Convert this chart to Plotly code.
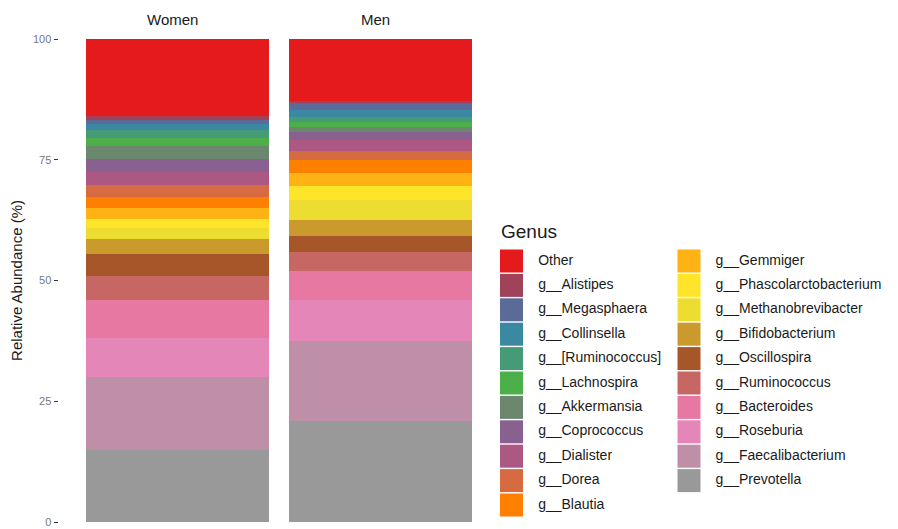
import plotly.graph_objects as go

# ---------------- data ----------------
genera = ["Other", "g__Alistipes", "g__Megasphaera", "g__Collinsella", "g__[Ruminococcus]",
          "g__Lachnospira", "g__Akkermansia", "g__Coprococcus", "g__Dialister", "g__Dorea",
          "g__Blautia", "g__Gemmiger", "g__Phascolarctobacterium", "g__Methanobrevibacter",
          "g__Bifidobacterium", "g__Oscillospira", "g__Ruminococcus", "g__Bacteroides",
          "g__Roseburia", "g__Faecalibacterium", "g__Prevotella"]
groups = ["Women", "Men"]
women = [15.9, 0.8, 1.0, 1.2, 1.5, 1.8, 2.7, 2.7, 2.6, 2.5, 2.2, 2.3, 2.0, 2.2, 3.1,
         4.6, 5.0, 7.9, 8.0, 15.0, 15.0]
men = [12.8, 0.5, 1.5, 1.3, 1.1, 1.1, 1.0, 1.7, 2.1, 2.0, 2.7, 2.6, 2.9, 4.1, 3.3,
       3.4, 4.0, 6.0, 8.4, 16.6, 20.9]
y_ticks = [0, 25, 50, 75, 100]

colors = ["#E41A1C", "#9F425A", "#5A6A99", "#3B88A2", "#449B76", "#4DAF4A", "#6B886E",
          "#896191", "#AD5882", "#D66B41", "#FF7F00", "#FFB214", "#FFE529", "#EDDD31",
          "#CA9A2C", "#A65628", "#C66764", "#E778A1", "#E486B7", "#BF8FA8", "#999999"]

W, H = 898, 529
FONT = "Liberation Sans, Arial, sans-serif"

fig = go.Figure()

# stacked bars: bottom (Prevotella) first
for i in reversed(range(len(genera))):
    for gi, (g, vals) in enumerate(zip(groups, [women, men])):
        fig.add_trace(go.Bar(
            x=[g], y=[vals[i]], name=genera[i],
            marker=dict(color=colors[i], line=dict(width=0)),
            width=1, showlegend=False,
            xaxis="x" if gi == 0 else "x2", yaxis="y",
            hovertemplate=f"{g}<br>{genera[i]}: %{{y}}%<extra></extra>",
        ))

# custom legend drawn through a helper subplot (two columns)
ncol1 = 11
cols = [0 if i < ncol1 else 1 for i in range(len(genera))]
rows = [i if i < ncol1 else i - ncol1 for i in range(len(genera))]
fig.add_trace(go.Scatter(
    x=cols, y=rows, mode="markers",
    marker=dict(symbol="square", size=23, color=colors, line=dict(width=0)),
    xaxis="x3", yaxis="y3", showlegend=False, hoverinfo="text", hovertext=genera,
))
fig.add_trace(go.Scatter(
    x=[c + 0.15 for c in cols], y=rows, mode="text", text=genera,
    textposition="middle right",
    textfont=dict(family=FONT, size=14, color="#1a1a1a"),
    xaxis="x3", yaxis="y3", showlegend=False, hoverinfo="skip",
))

ydom = [1 - 522 / H, 1 - 39 / H]
# legend axes mapping
px_per_col = 177.5
x3_min = (500 - 511.5) / px_per_col
x3_max = (898 - 511.5) / px_per_col
row_px = 24.4
y3_top = (240 - 261) / row_px
y3_bot = (520 - 261) / row_px

fig.update_layout(
    width=W, height=H,
    margin=dict(l=0, r=0, t=0, b=0, autoexpand=False),
    paper_bgcolor="white", plot_bgcolor="white",
    barmode="stack", bargap=0,
    font=dict(family=FONT, color="#1a1a1a"),
    xaxis=dict(domain=[86 / W, 269 / W], range=[-0.5, 0.5], showticklabels=False,
               showgrid=False, zeroline=False, showline=False, ticks="", anchor="y",
               automargin=False),
    xaxis2=dict(domain=[289 / W, 472 / W], range=[-0.5, 0.5], showticklabels=False,
                showgrid=False, zeroline=False, showline=False, ticks="", anchor="y",
                automargin=False),
    yaxis=dict(domain=ydom, range=[0, 100], anchor="free", position=57.5 / W,
               tickvals=y_ticks, ticktext=[str(v) for v in y_ticks],
               ticks="outside", ticklen=4, tickwidth=1.2, tickcolor="#333333",
               tickfont=dict(family=FONT, size=11, color="#777777"),
               ticklabeloverflow="allow",
               showgrid=False, zeroline=False, showline=False, automargin=False,
               title=dict(text="Relative Abundance (%)", standoff=5,
                          font=dict(family=FONT, size=15, color="#1a1a1a"))),
    xaxis3=dict(domain=[500 / W, 1], range=[x3_min, x3_max], visible=False, anchor="y3",
                automargin=False),
    yaxis3=dict(domain=[1 - 520 / H, 1 - 240 / H], range=[y3_bot, y3_top],
                visible=False, anchor="x3", automargin=False),
    annotations=[
        dict(text="Women", xref="x domain", yref="paper", x=0.475, y=1 - 19 / H,
             xanchor="center", yanchor="middle", showarrow=False,
             font=dict(family=FONT, size=15, color="#1a1a1a")),
        dict(text="Men", xref="x2 domain", yref="paper", x=0.475, y=1 - 19 / H,
             xanchor="center", yanchor="middle", showarrow=False,
             font=dict(family=FONT, size=15, color="#1a1a1a")),
        dict(text="Genus", xref="paper", yref="paper", x=499 / W, y=1 - 232 / H,
             xanchor="left", yanchor="middle", showarrow=False,
             font=dict(family=FONT, size=19, color="#1a1a1a")),
    ],
)

fig.write_html("out.html")
